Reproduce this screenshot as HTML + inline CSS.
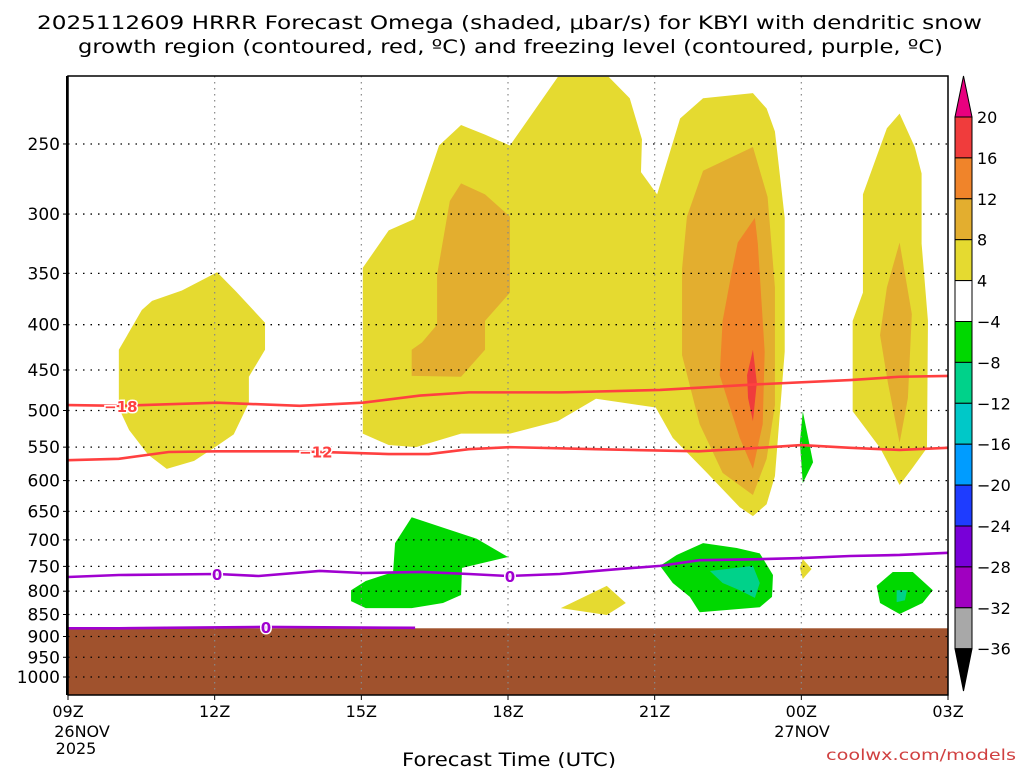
<!DOCTYPE html>
<html><head><meta charset="utf-8">
<style>
body{margin:0;background:#fff;}
svg text{font-family:"DejaVu Sans","Liberation Sans",sans-serif;}
</style></head>
<body>
<svg id="chart" width="1024" height="768" xmlns="http://www.w3.org/2000/svg">
<rect width="1024" height="768" fill="#fff"/>
<text x="37" y="29" font-size="19" textLength="945" lengthAdjust="spacingAndGlyphs" fill="#000">2025112609 HRRR Forecast Omega (shaded, μbar/s) for KBYI with dendritic snow</text>
<text x="78" y="53" font-size="19" textLength="865" lengthAdjust="spacingAndGlyphs" fill="#000">growth region (contoured, red, ºC) and freezing level (contoured, purple, ºC)</text>
<g id="shades"></g>
<g id="grid"></g>
<g id="lines"></g>
<g id="axes"></g>
<g id="cbar"></g>
<text x="402" y="766" font-size="19" textLength="214" lengthAdjust="spacingAndGlyphs">Forecast Time (UTC)</text>
<text x="826" y="760" font-size="15" textLength="190" lengthAdjust="spacingAndGlyphs" fill="#d04040">coolwx.com/models</text>
</svg>
<script>
const pressureTicks=[250,300,350,400,450,500,550,600,650,700,750,800,850,900,950,1000];
const hourTicks=[0,3,6,9,12,15,18];
const hourLabels=["09Z","12Z","15Z","18Z","21Z","00Z","03Z"];
const cbarLevels=[20,16,12,8,4,-4,-8,-12,-16,-20,-24,-28,-32,-36];
const cbarColors=["#f03c3c","#f0842a","#e3ae2f","#e5da30","#ffffff","#00d800","#00d28a","#00c8c8","#009cff","#1e3cff","#7800d8","#a000c0","#a8a8a8"];
const yellowWest=[[1.04,427],[1.51,385],[1.72,376],[2.33,366],[3.05,349],[3.44,367],[4.03,398],[4.03,427],[3.70,458],[3.70,490],[3.39,532],[3.05,548],[2.58,570],[2.02,582],[1.64,561],[1.25,526],[1.04,497]];
const yellowMain=[[6.03,531],[6.03,345],[6.56,313],[7.08,304],[7.59,251],[8.04,238],[8.53,244],[9.04,251],[10.02,210],[11.06,210],[11.49,222],[11.74,247],[11.72,269],[12.05,285],[12.52,234],[12.99,222],[14.01,219],[14.29,228],[14.46,242],[14.66,303],[14.66,429],[14.46,593],[14.29,638],[14.01,658],[13.74,643],[13.07,588],[12.37,537],[12.02,496],[11.70,490],[12.11,497],[10.80,485],[10.02,514],[9.04,531],[8.04,531],[7.12,550],[6.56,547]];
const orangeA=[[7.03,427],[7.03,457],[8.04,458],[8.53,427],[8.53,396],[9.04,368],[9.04,302],[8.53,285],[8.04,277],[7.81,290],[7.55,351],[7.55,400],[7.24,419]];
const orangeB=[[12.99,268],[14.01,252],[14.31,287],[14.46,363],[14.46,493],[14.29,567],[14.01,623],[13.39,588],[12.92,518],[12.56,433],[12.56,346],[12.66,302]];
const orange2=[[14.05,303],[14.11,324],[14.25,429],[14.21,518],[14.01,582],[13.74,537],[13.33,456],[13.39,396],[13.58,348],[13.70,323]];
const redCore=[[14.01,427],[14.09,465],[14.01,514],[13.91,484],[13.89,456]];
const yellowEast=[[17.01,231],[17.32,252],[17.46,270],[17.46,324],[17.59,396],[17.57,551],[17.26,582],[17.01,607],[16.61,551],[16.05,501],[16.05,396],[16.26,368],[16.26,285],[16.75,240]];
const orangeEast=[[17.01,323],[17.26,389],[17.18,484],[17.01,544],[16.77,465],[16.61,411],[16.75,363]];
const greenSpike=[[15.03,501],[15.24,572],[15.03,604],[14.97,543]];
const yellowSmall=[[15.03,736],[15.21,755],[15.03,775],[14.97,753]];
const greenWest=[[6.69,706],[7.03,660],[7.67,678],[8.36,698],[9.0,732],[8.06,753],[8.04,808],[7.67,825],[7.03,836],[6.09,836],[5.79,821],[5.79,798],[6.09,779],[6.65,761]];
const yellowLow=[[10.08,836],[11.02,789],[11.41,825],[11.02,851]];
const greenEast=[[12.11,749],[12.45,728],[12.99,706],[13.68,715],[14.15,725],[14.42,767],[14.40,812],[14.15,834],[12.92,845],[12.72,812],[12.37,783]];
const tealEast=[[13.13,759],[14.01,749],[14.15,783],[14.05,814],[13.74,798],[13.39,783]];
const greenFar=[[16.54,789],[16.87,761],[17.28,761],[17.69,798],[17.48,825],[17.01,849],[16.61,825]];
const tealFar=[[16.95,798],[17.16,798],[17.12,819],[16.95,823]];
const shadeColors=["#e5da30","#e5da30","#e3ae2f","#e3ae2f","#f0842a","#f03c3c","#e5da30","#e3ae2f","#00d800","#e5da30","#00d800","#e5da30","#00d800","#00d28a","#00d800","#00d28a"];
const shadeShapes=[yellowWest,yellowMain,orangeA,orangeB,orange2,redCore,yellowEast,orangeEast,greenSpike,yellowSmall,greenWest,yellowLow,greenEast,tealEast,greenFar,tealFar];
const isoMinus18=[[0,493],[1.04,494],[3.05,490],[4.74,494],[6.03,490],[7.2,481],[8.2,477],[10.1,477],[12.11,474],[14.15,467],[16.0,462],[17.01,458],[18,457]];
const isoMinus12=[[0,569],[1.04,567],[2.06,557],[3.05,556],[4.74,556],[6.56,560],[7.38,560],[8.2,553],[9.04,550],[10.8,553],[12.9,556],[14.15,551],[15.0,547],[16.0,551],[17.01,554],[18,551]];
const isoZero=[[0,771],[1.04,767],[3.05,765],[3.9,769],[5.15,759],[6.03,763],[7.24,761],[8.2,765],[9.0,769],[10.06,765],[11.29,755],[12.11,749],[12.92,738],[14.15,736],[15.0,734],[16.0,730],[17.01,728],[18,724]];
const isoZeroLow=[[0,881],[1.04,881],[2.0,880],[4.0,878],[7.1,880]];
const groundTop=881;

const X0=68,X1=948,Y0=76,Y1=695;
const xs=h=>X0+(X1-X0)*h/18;
const ys=p=>677-384.5*Math.log(1000/p);
const NS="http://www.w3.org/2000/svg";
function mk(t,a,par){const e=document.createElementNS(NS,t);for(const k in a)e.setAttribute(k,a[k]);par.appendChild(e);return e;}
const gS=document.getElementById('shades'),gG=document.getElementById('grid'),gL=document.getElementById('lines'),gA=document.getElementById('axes'),gC=document.getElementById('cbar');
mk('rect',{x:X0,y:ys(groundTop),width:X1-X0,height:Y1-ys(groundTop),fill:'#a0522d'},gS);
shadeShapes.forEach((s,i)=>{
  const e=mk('polygon',{points:s.map(q=>xs(q[0])+','+ys(q[1])).join(' '),fill:shadeColors[i]},gS);
  
  
});
pressureTicks.forEach(p=>{
  const e=mk('line',{x1:X0,x2:X1,y1:ys(p),y2:ys(p),stroke:'#000','stroke-width':1.3,'stroke-dasharray':'1.5 6'},gG);
  
  
  const t=mk('text',{x:60,y:ys(p)+6,'font-size':17,'text-anchor':'end'},gA);t.textContent=p;
  
  
  mk('line',{x1:X0-5,x2:X0,y1:ys(p),y2:ys(p),stroke:'#000'},gA);
});
hourTicks.forEach((h,i)=>{
  if(h>0&&h<18){const e=mk('line',{x1:xs(h),x2:xs(h),y1:Y0,y2:Y1,stroke:'#888','stroke-width':1.2,'stroke-dasharray':'1.5 4.5'},gG);
  
  }
  const t=mk('text',{x:xs(h),y:717,'font-size':16,'text-anchor':'middle'},gA);t.textContent=hourLabels[i];
  
  
  mk('line',{x1:xs(h),x2:xs(h),y1:Y1,y2:Y1+5,stroke:'#000'},gA);
});
[["26NOV",82,737],["2025",76,754],["27NOV",802,737]].forEach(d=>{const t=mk('text',{x:d[1],y:d[2],'font-size':16,'text-anchor':'middle'},gA);t.textContent=d[0];});
function drawLine(arr,col,name){
  const e=mk('polyline',{points:arr.map(q=>xs(q[0])+','+ys(q[1])).join(' '),fill:'none',stroke:col,'stroke-width':2.6},gL);
  
  
}
drawLine(isoMinus18,'#ff4040','isotherm-minus18');
drawLine(isoMinus12,'#ff4040','isotherm-minus12');
drawLine(isoZero,'#a000d0','freezing-level');
drawLine(isoZeroLow,'#a000d0','freezing-level-low');
function lbl(txt,h,p,col){
  const x=xs(h),y=ys(p);
  const t=mk('text',{x:x,y:y+6,'font-size':15,'font-weight':'bold','text-anchor':'middle',fill:col,stroke:'#fff','stroke-width':3,'paint-order':'stroke'},gL);t.textContent=txt;
  
  
}
lbl('−18',1.08,494,'#ff4040');lbl('−12',5.07,556,'#ff4040');
lbl('0',3.05,765,'#a000d0');lbl('0',9.04,769,'#a000d0');lbl('0',4.05,878,'#a000d0');
mk('rect',{x:X0,y:Y0,width:X1-X0,height:Y1-Y0,fill:'none',stroke:'#000','stroke-width':1.5},gA);
mk('line',{x1:X0-1,x2:X0-1,y1:Y0,y2:Y1,stroke:'#000','stroke-width':2},gA);
const CX=955,CW=17,CT=117,CH=40.9;
cbarColors.forEach((c,i)=>{
  const e=mk('rect',{x:CX,y:CT+i*CH,width:CW,height:CH,fill:c,stroke:'#000','stroke-width':1},gC);
  
  
});
mk('polygon',{points:`${CX},${CT} ${CX+CW},${CT} ${CX+CW/2},76`,fill:'#e8007f',stroke:'#000'},gC);
const CB=CT+cbarColors.length*CH;
mk('polygon',{points:`${CX},${CB} ${CX+CW},${CB} ${CX+CW/2},691`,fill:'#000',stroke:'#000'},gC);
cbarLevels.forEach((v,i)=>{
  const t=mk('text',{x:977,y:CT+i*CH+6,'font-size':16},gC);t.textContent=v<0?'−'+(-v):v;
  
  
});
</script>
</body></html>
